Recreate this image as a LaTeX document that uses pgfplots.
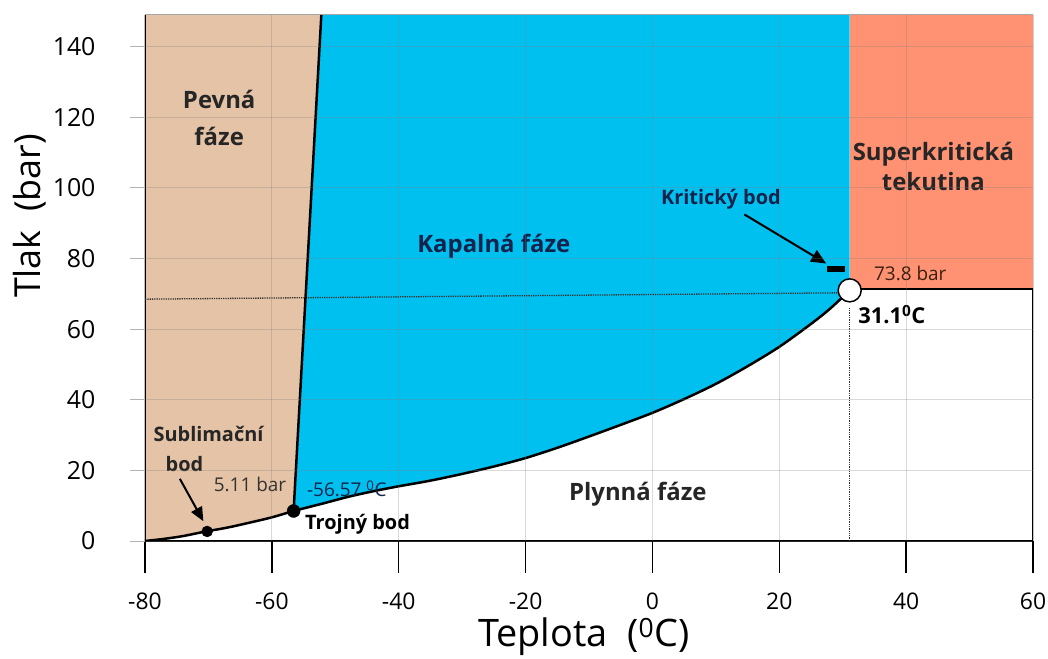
\documentclass[border=0pt]{standalone}
\usepackage{fontspec}
\setmainfont{Open Sans}
\usepackage{pgfplots}
\pgfplotsset{compat=1.18}
\usetikzlibrary{arrows.meta}
\definecolor{solidc}{RGB}{229,195,166}
\definecolor{liqc}{RGB}{0,192,240}
\definecolor{supc}{RGB}{255,146,115}
\definecolor{navy}{RGB}{20,35,75}
\definecolor{dbrown}{RGB}{60,30,15}
\begin{document}
\begin{tikzpicture}
\begin{axis}[
  scale only axis, width=888bp, height=526bp,
  xmin=-80, xmax=60, ymin=0, ymax=149,
  axis on top,
  axis line style={draw=none},
  xtick={-80,-60,...,60}, ytick={0,20,...,140},
  xticklabels={-80,-60,-40,-20,0,20,40,60},
  yticklabels={0,20,40,60,80,100,120,140},
  xtick pos=bottom, ytick pos=left,
  grid=major, grid style={gray, opacity=0.3, line width=1bp},
  tick align=outside,
  major tick length=32bp,
  x tick style={black, line width=1.5bp},
  y tick style={gray!60, line width=1bp, /pgfplots/major tick length=15bp},
  xticklabel style={font=\fontsize{23}{26}\selectfont, yshift=-16bp},
  yticklabel style={font=\fontsize{25}{28}\selectfont, xshift=-14bp},
  xlabel={Teplota\ \ (\textsuperscript{0}C)},
  ylabel={Tlak\ \ (bar)},
  xlabel style={at={(axis description cs:0.494,-0.1825)}, anchor=center, font=\fontsize{38}{44}\selectfont},
  ylabel style={at={(axis description cs:-0.1295,0.618)}, anchor=center, font=\fontsize{36}{42}\selectfont},
]
% solid region
\addplot[fill=solidc, draw=none] coordinates {(-80,0) (-77,0.6) (-74,1.4) (-70.7,2.6) (-67,3.8) (-64,5.0) (-60,6.7) (-56.57,8.5) (-52.2,149) (-80,149)} -- cycle;
% liquid region
\addplot[fill=liqc, draw=none] coordinates {(-56.57,8.5) (-52.2,149) (31.1,149) (31.1,71)
 (28,65.8) (25,61.5) (20,55.0) (15,49.5) (10,44.5) (5,40.2) (0,36.3) (-5,32.9) (-10,29.6) (-15,26.4) (-20,23.5) (-25,21.1) (-30,19.0) (-35,17.1) (-40,15.5) (-44,14.1) (-48,12.5) (-52,10.6)} -- cycle;
% supercritical region
\addplot[fill=supc, draw=none] coordinates {(31.1,71.5) (31.1,149) (60,149) (60,71.5)} -- cycle;
% border lines
\addplot[gray!70, line width=1bp] coordinates {(-80,149) (60,149) (60,71.5)};
\addplot[black, line width=2.5bp] coordinates {(-80,149) (-80,0) (60,0)};
\addplot[black, line width=2bp] coordinates {(31.1,71.5) (60,71.5) (60,0)};
% dotted guides
\addplot[black!80, densely dotted, line width=1.3bp] coordinates {(-80,68.5) (29.5,70.3)};
\addplot[black!80, densely dotted, line width=1.3bp] coordinates {(31.1,0) (31.1,66)};
% melting line
\addplot[black, line width=2.5bp] coordinates {(-56.57,8.5) (-52.2,149)};
% sublimation + vaporization curve
\addplot[black, line width=2.5bp, smooth] coordinates {(-80,0) (-77,0.6) (-74,1.4) (-70.7,2.6) (-67,3.8) (-64,5.0) (-60,6.7) (-56.57,8.5) (-52,10.6) (-48,12.5) (-44,14.1) (-40,15.5) (-35,17.1) (-30,19.0) (-25,21.1) (-20,23.5) (-15,26.4) (-10,29.6) (-5,32.9) (0,36.3) (5,40.2) (10,44.5) (15,49.5) (20,55.0) (25,61.5) (28,65.8) (31.1,71)};
% points
\addplot[only marks, mark=*, mark size=6.5bp, black] coordinates {(-56.57,8.5)};
\addplot[only marks, mark=*, mark size=5.5bp, black] coordinates {(-70.2,2.7)};
\addplot[only marks, mark=*, mark size=11.5bp, mark options={fill=white, draw=black, line width=1.5bp}] coordinates {(31.1,71)};
\addplot[black, line width=6bp] coordinates {(27.6,77) (30.3,77)};
% arrows
\addplot[black, line width=2bp, -{Triangle[length=15bp,width=13bp]}] coordinates {(14.5,92.5) (27.4,78.6)};
\addplot[black, line width=2bp, -{Triangle[length=14bp,width=12bp]}] coordinates {(-74.5,17.6) (-70.8,5.6)};
% labels
\node[align=center, font=\fontsize{24}{37}\selectfont\bfseries, text=black!85] at (axis cs:-68.3,119.8) {Pevná\\fáze};
\node[font=\fontsize{24}{28}\selectfont\bfseries, text=navy] at (axis cs:-25.0,83.6) {Kapalná fáze};
\node[align=center, font=\fontsize{24}{30}\selectfont\bfseries, text=black!85] at (axis cs:44.3,106.0) {Superkritická\\tekutina};
\node[font=\fontsize{20}{24}\selectfont\bfseries, text=navy] at (axis cs:10.8,96.8) {Kritický bod};
\node[anchor=west, font=\fontsize{19}{22}\selectfont, text=dbrown] at (axis cs:34.4,75.8) {73.8 bar};
\node[anchor=west, font=\fontsize{22}{26}\selectfont\bfseries] at (axis cs:31.9,64.2) {31.1\textsuperscript{0}C};
\node[anchor=west, font=\fontsize{20}{24}\selectfont\bfseries, text=black!85] at (axis cs:-79.2,30.3) {Sublimační};
\node[anchor=west, font=\fontsize{20}{24}\selectfont\bfseries, text=black!85] at (axis cs:-77.3,21.8) {bod};
\node[anchor=west, font=\fontsize{19}{22}\selectfont, text=black!80] at (axis cs:-69.7,16.1) {5.11 bar};
\node[anchor=west, font=\fontsize{19}{22}\selectfont, text=navy] at (axis cs:-55.0,14.7) {-56.57 \textsuperscript{0}C};
\node[anchor=west, font=\fontsize{20}{24}\selectfont\bfseries] at (axis cs:-55.3,4.8) {Trojný bod};
\node[font=\fontsize{24}{28}\selectfont\bfseries, text=black!85] at (axis cs:-2.3,13.3) {Plynná fáze};
\end{axis}
\pgfresetboundingbox
\path (current axis.south west) ++(-145bp,-118bp) rectangle ++(1048bp,659bp);
\end{tikzpicture}
\end{document}
